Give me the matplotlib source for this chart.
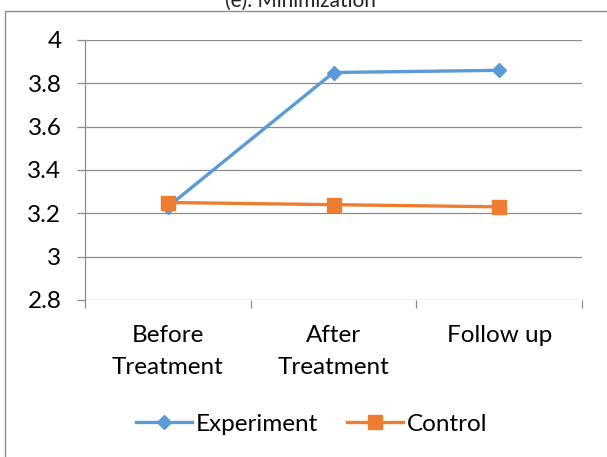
import matplotlib
matplotlib.use('Agg')
import matplotlib.pyplot as plt
from matplotlib.patches import Rectangle

categories = ['Before\nTreatment', 'After\nTreatment', 'Follow up']
experiment = [3.23, 3.85, 3.86]
control = [3.25, 3.24, 3.23]
y_ticks = [2.8, 3.0, 3.2, 3.4, 3.6, 3.8, 4.0]
y_labels = ['2.8', '3', '3.2', '3.4', '3.6', '3.8', '4']

plt.rcParams['font.family'] = ['Lato', 'DejaVu Sans']

fig = plt.figure(figsize=(6.07, 4.57), dpi=100)
ax = fig.add_axes([85 / 607, 1 - 300 / 457, 497 / 607, 260 / 457])

# outer chart frame (runs off the right and bottom edges)
fig.patches.append(Rectangle((5 / 607, -0.2), 1.2, 1.2 - 11 / 457,
                             transform=fig.transFigure, fill=False,
                             edgecolor='#8c8c8c', linewidth=1.0))
fig.text(300 / 607, 450 / 457, '(e). Minimization', ha='center', va='baseline',
         fontsize=15, color='#222222')

gray = '#8c8c8c'
x = [0.5, 1.5, 2.5]
ax.plot(x, experiment, color='#5B9BD5', linewidth=2.4, marker='D',
        markersize=7, label='Experiment', zorder=3)
ax.plot(x, control, color='#ED7D31', linewidth=2.4, marker='s',
        markersize=9.5, label='Control', zorder=4)

ax.set_xlim(0, 3)
ax.set_ylim(2.8, 4.0)
ax.set_yticks(y_ticks)
ax.set_yticklabels(y_labels)
for yv in y_ticks:
    ax.axhline(yv, color=gray, linewidth=0.9, zorder=1)

ax.set_xticks([0, 1, 2, 3])
ax.set_xticklabels([])
ax.set_xticks(x, minor=True)
ax.set_xticklabels(categories, minor=True, linespacing=1.65)
ax.tick_params(axis='x', which='major', length=6, color=gray, width=0.9)
ax.tick_params(axis='x', which='minor', length=0, pad=18, labelsize=17.5)
ax.tick_params(axis='y', length=6, color=gray, width=0.9, pad=11, labelsize=17.5)

for s in ['top', 'right', 'bottom']:
    ax.spines[s].set_visible(False)
ax.spines['left'].set_color(gray)
ax.spines['left'].set_linewidth(0.9)

fig.legend(loc='center', bbox_to_anchor=(312 / 607, 1 - 424 / 457), ncol=2,
           frameon=False, fontsize=17.5, handlelength=2.3, handletextpad=0.15,
           columnspacing=1.2)

fig.savefig('out.png', dpi=100)
